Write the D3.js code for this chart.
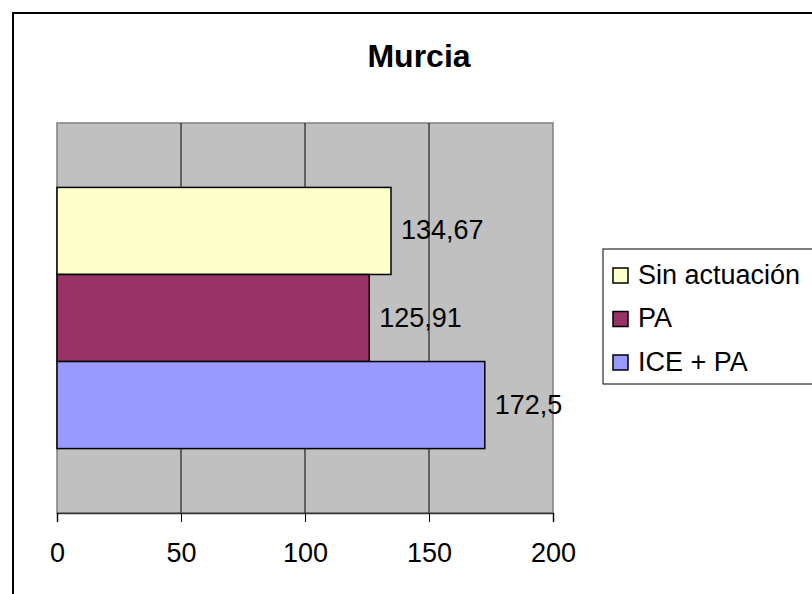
<!DOCTYPE html>
<html>
<head>
<meta charset="utf-8">
<script src="https://cdn.jsdelivr.net/npm/d3@7"></script>
<style>
  html, body { margin: 0; padding: 0; background: #fff; }
  svg { display: block; }
  text { font-family: "Liberation Sans", Arial, sans-serif; fill: #000; }
</style>
</head>
<body>
<svg id="chart" width="812" height="594"></svg>
<script>
const title = "Murcia";
const seriesNames = ["Sin actuación", "PA", "ICE + PA"];
const seriesValues = [134.67, 125.91, 172.5];
const valueLabels = ["134,67", "125,91", "172,5"];
const seriesColors = ["#FFFFCC", "#993366", "#9999FF"];
const xTicks = [0, 50, 100, 150, 200];

const svg = d3.select("#chart");
const plot = { left: 57, right: 553, top: 123, bottom: 513 };
const fs = 27;

// outer border (extends past the window on right/bottom)
svg.append("rect").attr("x", 13).attr("y", 13).attr("width", 820).attr("height", 600)
  .attr("fill", "#fff").attr("stroke", "#000").attr("stroke-width", 2);

// title
svg.append("text").attr("x", 419).attr("y", 66.5).attr("text-anchor", "middle")
  .attr("font-size", 32).attr("font-weight", "bold").text(title);

const x = d3.scaleLinear().domain([0, 200]).range([plot.left, plot.right]);
const y = d3.scaleBand().domain(seriesNames).range([plot.top, plot.bottom])
  .paddingInner(0).paddingOuter(0.74).align(0.5);

// plot area
svg.append("rect").attr("x", plot.left).attr("y", plot.top)
  .attr("width", plot.right - plot.left).attr("height", plot.bottom - plot.top)
  .attr("fill", "#C0C0C0").attr("stroke", "#808080").attr("stroke-width", 1.5);

// gridlines
svg.append("g").selectAll("line").data(xTicks.filter(t => t > 0 && t < 200)).join("line")
  .attr("x1", d => x(d)).attr("x2", d => x(d))
  .attr("y1", plot.top).attr("y2", plot.bottom)
  .attr("stroke", "#000").attr("stroke-width", 1);

// bars
svg.append("g").selectAll("rect").data(seriesNames).join("rect")
  .attr("x", x(0)).attr("y", d => y(d))
  .attr("width", (d, i) => x(seriesValues[i]) - x(0))
  .attr("height", y.bandwidth())
  .attr("fill", (d, i) => seriesColors[i])
  .attr("stroke", "#000").attr("stroke-width", 1.5);

// value labels
svg.append("g").selectAll("text").data(seriesNames).join("text")
  .attr("x", (d, i) => x(seriesValues[i]) + 10)
  .attr("y", d => y(d) + y.bandwidth() / 2 + 8.5)
  .attr("font-size", fs)
  .text((d, i) => valueLabels[i]);

// x axis
const axis = svg.append("g").attr("transform", `translate(0,${plot.bottom})`)
  .call(d3.axisBottom(x).tickValues(xTicks).tickSize(9).tickPadding(21).tickFormat(d => String(d)));
axis.select(".domain").attr("stroke", "#303030").attr("stroke-width", 1.5);
axis.selectAll(".tick line").attr("stroke", "#000").attr("stroke-width", 1);
axis.selectAll(".tick text").attr("font-size", fs).attr("font-family", "Liberation Sans, Arial, sans-serif")
  .attr("fill", "#000").attr("dy", "0.71em");

// legend
const lg = svg.append("g");
lg.append("rect").attr("x", 603).attr("y", 249).attr("width", 230).attr("height", 135)
  .attr("fill", "#fff").attr("stroke", "#000").attr("stroke-width", 1);
const rows = lg.selectAll("g").data(seriesNames).join("g")
  .attr("transform", (d, i) => `translate(0,${275.5 + i * 43.5})`);
rows.append("rect").attr("x", 613).attr("y", -7.5).attr("width", 15).attr("height", 15)
  .attr("fill", (d, i) => seriesColors[i]).attr("stroke", "#000").attr("stroke-width", 1.5);
rows.append("text").attr("x", 638).attr("y", 8).attr("font-size", fs).text(d => d);
</script>
</body>
</html>
